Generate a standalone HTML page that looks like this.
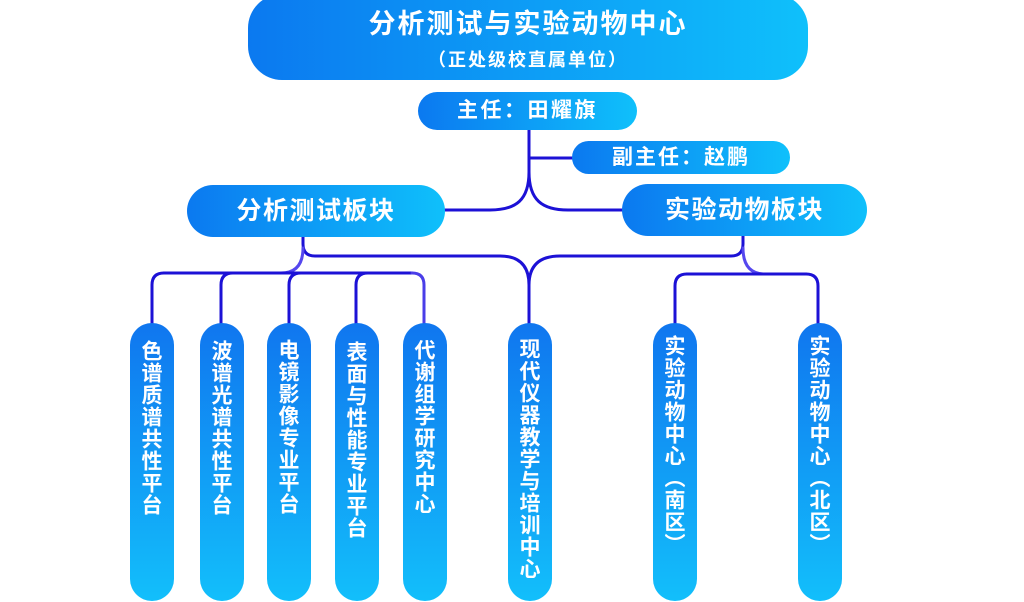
<!DOCTYPE html>
<html><head><meta charset="utf-8"><style>
html,body{margin:0;padding:0;background:#fff;}
#c{position:relative;width:1024px;height:602px;overflow:hidden;background:#fff;font-family:"Liberation Sans","Noto Sans CJK SC",sans-serif;}
svg{position:absolute;left:0;top:0;}
.h{position:absolute;color:#fff;font-weight:bold;white-space:nowrap;text-align:center;font-family:"Liberation Sans","Noto Sans CJK SC",sans-serif;}
.v{position:absolute;color:#fff;font-weight:bold;writing-mode:vertical-rl;text-orientation:mixed;font-size:21px;letter-spacing:1px;line-height:44px;width:44px;font-family:"Noto Sans CJK SC",sans-serif;}
</style></head><body><div id="c">
<svg width="1024" height="602" viewBox="0 0 1024 602">
<defs>
<linearGradient id="gh" x1="0" y1="0" x2="1" y2="0">
<stop offset="0" stop-color="#0b79f0"/><stop offset="1" stop-color="#0fc0fb"/>
</linearGradient>
<linearGradient id="gv" x1="0" y1="0" x2="0" y2="1">
<stop offset="0" stop-color="#1076ef"/><stop offset="1" stop-color="#12bffb"/>
</linearGradient>
<linearGradient id="gl" x1="0" y1="0" x2="0" y2="1">
<stop offset="0" stop-color="#8a80ee"/><stop offset="1" stop-color="#1a10d8"/>
</linearGradient>
</defs>
<g fill="none" stroke="#1c11d6" stroke-width="3" stroke-linecap="round">
<path d="M529,80 V100" stroke="url(#gl)"/>
<path d="M529,128 V176"/>
<path d="M529,158 H575"/>
<path d="M529,172 C529,200 516,210 490,210 H440"/>
<path d="M529,172 C529,200 542,210 568,210 H628"/>
<path d="M303,234 V244 Q303,256 315,256 H500 Q529,256 529,285 V326"/>
<path d="M303,248 Q303,273 281,273" stroke="#5547ee"/>
<path d="M164,273 H412"/>
<path d="M164,273 Q152,273 152,285 V326"/>
<path d="M233,273 Q221,273 221,285 V326"/>
<path d="M301,273 Q289,273 289,285 V326"/>
<path d="M368,273 Q356,273 356,285 V326"/>
<path d="M412,273 Q424,273 424,285 V326" stroke="#4a3ee8"/>
<path d="M743,234 V244 Q743,256 731,256 H560 Q529,256 529,285"/>
<path d="M743,248 Q743,274 765,274" stroke="#5547ee"/>
<path d="M687,274 H806"/>
<path d="M687,274 Q675,274 675,286 V326"/>
<path d="M806,274 Q818,274 818,286 V326"/>
</g>
<rect x="248" y="-6" width="560" height="86" rx="34" fill="url(#gh)"/>
<rect x="418" y="92" width="219" height="38" rx="19" fill="url(#gh)"/>
<rect x="572" y="141" width="218" height="33" rx="16.5" fill="url(#gh)"/>
<rect x="187" y="185" width="258" height="52" rx="26" fill="url(#gh)"/>
<rect x="622" y="184" width="245" height="52" rx="26" fill="url(#gh)"/>
<rect x="130" y="323" width="44" height="278" rx="22" fill="url(#gv)"/>
<rect x="200" y="323" width="44" height="278" rx="22" fill="url(#gv)"/>
<rect x="267" y="323" width="44" height="278" rx="22" fill="url(#gv)"/>
<rect x="335" y="323" width="44" height="278" rx="22" fill="url(#gv)"/>
<rect x="403" y="323" width="44" height="278" rx="22" fill="url(#gv)"/>
<rect x="508" y="323" width="44" height="278" rx="22" fill="url(#gv)"/>
<rect x="653" y="323" width="44" height="278" rx="22" fill="url(#gv)"/>
<rect x="798" y="323" width="44" height="278" rx="22" fill="url(#gv)"/>
</svg>
<div class="h" style="left:248px;top:5px;width:560px;font-size:27px;letter-spacing:2px;line-height:38px;">分析测试与实验动物中心</div>
<div class="h" style="left:248px;top:47px;width:560px;font-size:18px;letter-spacing:2px;line-height:26px;">（正处级校直属单位）</div>
<div class="h" style="left:418px;top:92px;width:219px;font-size:21px;letter-spacing:2.5px;line-height:38px;">主任：田耀旗</div>
<div class="h" style="left:572px;top:141px;width:218px;font-size:21px;letter-spacing:2px;line-height:33px;">副主任：赵鹏</div>
<div class="h" style="left:187px;top:185px;width:258px;font-size:25px;letter-spacing:1.5px;line-height:52px;">分析测试板块</div>
<div class="h" style="left:622px;top:184px;width:245px;font-size:25px;letter-spacing:1.5px;line-height:52px;">实验动物板块</div>
<div class="v" style="left:130px;top:340px;">色谱质谱共性平台</div>
<div class="v" style="left:200px;top:340px;">波谱光谱共性平台</div>
<div class="v" style="left:267px;top:339px;">电镜影像专业平台</div>
<div class="v" style="left:335px;top:341px;">表面与性能专业平台</div>
<div class="v" style="left:403px;top:339px;">代谢组学研究中心</div>
<div class="v" style="left:508px;top:338px;">现代仪器教学与培训中心</div>
<div class="v" style="left:653px;top:335px;">实验动物中心（南区）</div>
<div class="v" style="left:798px;top:335px;">实验动物中心（北区）</div>
</div></body></html>
